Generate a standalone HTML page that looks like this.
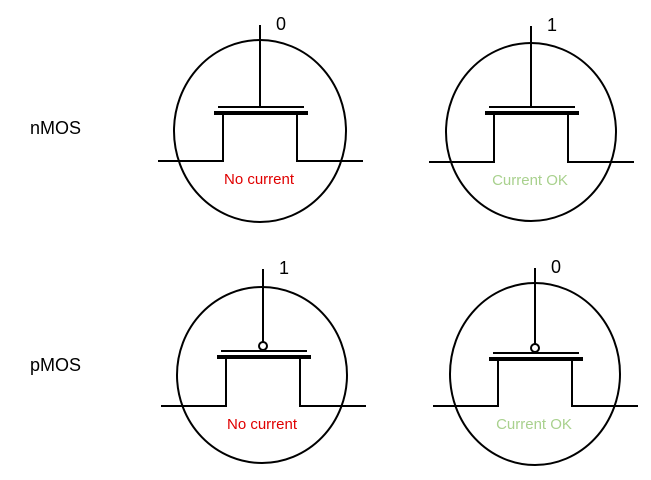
<!DOCTYPE html>
<html><head><meta charset="utf-8"><style>
html,body{margin:0;padding:0;background:#fff;}
svg{display:block;font-family:"Liberation Sans",sans-serif;}
</style></head><body>
<svg width="651" height="480" viewBox="0 0 651 480">
<text x="30" y="134" font-size="18" fill="#000">nMOS</text>
<text x="30" y="371" font-size="18" fill="#000">pMOS</text>
<g id="g" stroke="#000" fill="none"></g>
</svg>
<script>
const cx = [260, 531, 262, 535];
const cy = [131, 132, 375, 374];
const rx = [86, 85, 85, 85];
const ry = [91, 89, 88, 91];
const gate = [260, 531, 263, 535];
const baseY = [161, 162, 406, 406];
const plateY = [107, 107, 351, 353];
const topY = [25, 26, 269, 268];
const pmos = [false, false, true, true];
const inputs = ['0', '1', '1', '0'];
const status = ['No current', 'Current OK', 'No current', 'Current OK'];
const ok = [false, true, false, true];
const names = ['nmos-off', 'nmos-on', 'pmos-off', 'pmos-on'];
const ns = 'http://www.w3.org/2000/svg';
const svg = document.querySelector('svg');
function mk(tag, attrs, parent) {
  const e = document.createElementNS(ns, tag);
  for (const k in attrs) e.setAttribute(k, attrs[k]);
  parent.appendChild(e);
  return e;
}
for (let i = 0; i < 4; i++) {
  const g = mk('g', {stroke: '#000', fill: 'none'}, svg);
  
  
  const c = mk('ellipse', {cx: cx[i], cy: cy[i], rx: rx[i], ry: ry[i], 'stroke-width': 2}, g);
  
  
  const x = gate[i], p = plateY[i], b = baseY[i];
  const thickY = p + 6;
  const gEnd = pmos[i] ? p - 9 : p;
  const gl = mk('line', {x1: x, y1: topY[i], x2: x, y2: gEnd, 'stroke-width': 2}, g);
  
  
  if (pmos[i]) {
    const bub = mk('circle', {cx: x, cy: p - 5, r: 4, 'stroke-width': 2, fill: '#fff'}, g);
    
    
  }
  const tp = mk('line', {x1: x - 42, y1: p, x2: x + 44, y2: p, 'stroke-width': 2}, g);
  
  
  const th = mk('line', {x1: x - 46, y1: thickY, x2: x + 48, y2: thickY, 'stroke-width': 4}, g);
  
  
  const lx = x - 37, rxx = x + 37;
  const path = mk('polyline', {points: `${x-102},${b} ${lx},${b} ${lx},${thickY} ${rxx},${thickY} ${rxx},${b} ${x+103},${b}`, 'stroke-width': 2}, g);
  
  
  const t1 = mk('text', {x: x + 16, y: topY[i] + 5, 'font-size': 18, fill: '#000', stroke: 'none'}, g);
  t1.textContent = inputs[i];
  
  
  const t2 = mk('text', {x: x - 1, y: b + 23, 'font-size': 15, fill: ok[i] ? '#a9d18e' : '#e00000', stroke: 'none', 'text-anchor': 'middle'}, g);
  t2.textContent = status[i];
  
  
}
</script>
</body></html>
